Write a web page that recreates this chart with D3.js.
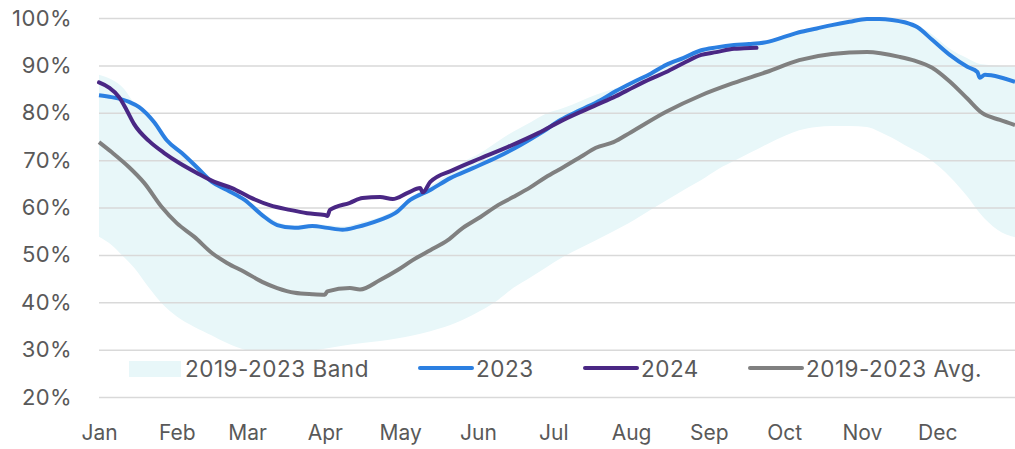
<!DOCTYPE html>
<html>
  <head>
    <title>Storage levels</title>
    <script src="https://d3js.org/d3.v7.min.js"></script>
    <style>
        body { margin: 0; background: white; }
        svg { display: block; }
        text { font-family: Inter, "Noto Sans", sans-serif; fill: #595959; }
    </style>
  </head>
  <body>
    <svg id="chart" width="1015" height="449"></svg>
  </body>
  <script>
    // day of year -> percent full
    const monthNames = ["Jan","Feb","Mar","Apr","May","Jun","Jul","Aug","Sep","Oct","Nov","Dec"];
    const monthStarts = [0,31,59,90,120,151,181,212,243,273,304,334];
    const yTicks = [20,30,40,50,60,70,80,90,100];

    const bandDays  = [0,5,10,14,20,25,31,38,45,51,58,65,71,78,85,91,97,105,112,118,125,132,140,145,152,159,165,172,178,185,192,198,205,211,220,226,234,240,247,253,260,266,274,279,286,292,299,306,311,316,321,327,332,339,346,351,358,365];
    const bandUpper = [88,87,85,82,79,75.5,72.3,69,65.8,64,62,59,57,56.2,56.5,56.3,56,57,58,59.6,62.5,64.5,67.5,69.5,71.5,74,76,78,79.8,81,82.5,83.8,85,86.2,88.5,90.3,91.9,93.4,94,94.5,94.8,95.2,96.3,97.2,98,98.7,99.4,100,100,99.8,99.3,98.2,96.5,93.5,91.5,90.3,90,89.7];
    const bandLower = [53.8,52.1,49.5,47.3,43,39.8,37,34.8,33,31.4,30,29.5,29.3,29.4,29.8,30.3,30.8,31.4,31.8,32.3,33,33.9,35.2,36.3,38.2,40.5,43,45.3,47.3,49.6,51.5,53.1,55,56.7,59.6,61.5,64,65.8,68.2,69.8,71.7,73.3,75.3,76.3,77,77.2,77.2,77,76,74.7,73.2,71.5,69.8,66.5,62.3,58.8,55.3,53.7];

    const days2023 = [0,5,12,16,22,27,33,39,45,51,58,65,71,78,85,91,97,103,107,112,118,124,132,140,149,159,168,176,184,192,200,206,213,220,226,233,240,246,253,259,266,273,279,286,292,299,306,311,316,321,326,332,339,346,350,351,353,359,365];
    const pct2023  = [83.7,83.3,82.3,81.2,78,74.2,71.5,68.5,65.4,63.7,61.6,58.4,56.3,55.7,56.1,55.7,55.3,55.9,56.5,57.4,58.8,61.6,63.7,66.2,68.3,70.7,73.2,75.7,78.5,80.6,82.7,84.6,86.5,88.3,90.1,91.6,93.2,93.8,94.3,94.5,94.9,96,97,97.8,98.5,99.2,99.8,99.8,99.6,99.1,98.1,95.4,92.2,89.7,88.6,87.4,88,87.5,86.5];

    const days2024 = [0,4,8,11,14,20,26,32,39,46,53,60,68,76,83,90,91,92,100,105,112,117,123,128,129,132,141,152,163,175,185,198,206,213,220,226,233,240,246,253,257,262];
    const pct2024  = [86.4,85.3,83.3,80.6,77.6,74,71.5,69.4,67.3,65.4,64.1,62.2,60.5,59.5,58.8,58.4,58.2,59.5,61,62,62.2,61.8,63.1,64.1,63.2,65.4,67.9,70.4,72.8,75.7,78.5,81.6,83.5,85.4,87.2,88.6,90.5,92.2,92.8,93.5,93.6,93.7];

    const daysAvg = [0,5,12,18,25,31,38,45,51,58,65,71,78,85,90,91,100,104,112,119,125,132,139,145,152,159,165,172,178,185,192,198,205,212,226,240,253,266,279,292,306,319,325,332,339,346,352,359,365];
    const pctAvg  = [73.8,71.7,68.5,65.2,60.1,56.7,53.8,50.4,48.3,46.4,44.3,43,42,41.7,41.6,42.3,43,42.7,44.7,46.8,48.9,51,53.1,55.7,58,60.5,62.2,64.3,66.4,68.5,70.7,72.6,73.8,75.9,80.2,83.7,86.3,88.6,91.1,92.4,92.8,91.8,91,89.5,86.6,83,79.9,78.5,77.4];

    const svg = d3.select("#chart");
    const margin = {top: 18, right: 0, bottom: 52, left: 99};
    const width = 1015 - margin.left - margin.right;
    const height = 449 - margin.top - margin.bottom;
    const g = svg.append("g").attr("transform", `translate(${margin.left},${margin.top})`);

    const x = d3.scaleLinear().domain([0, 365]).range([0, width]);
    const y = d3.scaleLinear().domain([20, 100]).range([height, 0]);

    // band (drawn first, under the grid)
    const bandData = bandDays.map((d, i) => ({d: d, lo: bandLower[i], hi: bandUpper[i]}));
    g.append("path")
        .datum(bandData)
        .attr("fill", "#e8f7f9")
        .attr("d", d3.area().x(d => x(d.d)).y0(d => y(d.lo)).y1(d => y(d.hi)).curve(d3.curveMonotoneX));

    // y axis with gridlines
    const yAxis = g.append("g")
        .call(d3.axisLeft(y).tickValues(yTicks).tickFormat(d => d + "%").tickSize(-width).tickPadding(27));
    yAxis.select(".domain").remove();
    yAxis.selectAll("line").attr("stroke", "#d9d9d9").attr("stroke-width", 1.5);
    yAxis.selectAll("text").style("font-size", "22px").style("letter-spacing", "0.4px").attr("fill", "#595959");

    // x axis: month labels only
    const xAxis = g.append("g")
        .attr("transform", `translate(0,${height})`)
        .call(d3.axisBottom(x).tickValues(monthStarts).tickFormat((d, i) => monthNames[i]).tickSize(0).tickPadding(28));
    xAxis.select(".domain").remove();
    xAxis.selectAll("text").style("font-size", "21px").attr("fill", "#595959");

    // lines
    const line = d3.line().x(d => x(d[0])).y(d => y(d[1])).curve(d3.curveMonotoneX);
    g.append("path")
        .datum(daysAvg.map((d, i) => [d, pctAvg[i]]))
        .attr("fill", "none").attr("stroke", "#808080").attr("stroke-width", 4)
        .attr("stroke-linejoin", "round").attr("d", line);
    g.append("path")
        .datum(days2023.map((d, i) => [d, pct2023[i]]))
        .attr("fill", "none").attr("stroke", "#2b7fe1").attr("stroke-width", 4)
        .attr("stroke-linejoin", "round").attr("d", line);
    g.append("path")
        .datum(days2024.map((d, i) => [d, pct2024[i]]))
        .attr("fill", "none").attr("stroke", "#4a2784").attr("stroke-width", 4)
        .attr("stroke-linejoin", "round").attr("stroke-linecap", "round").attr("d", line);

    // legend, white box over the bottom of the plot
    const legend = svg.append("g");
    legend.append("rect")
        .attr("x", 115).attr("y", 351).attr("width", 885).attr("height", 38)
        .attr("fill", "white");
    legend.append("rect")
        .attr("x", 129).attr("y", 361).attr("width", 52).attr("height", 16)
        .attr("fill", "#e8f7f9");
    legend.append("text").attr("x", 185).attr("y", 377)
        .style("font-size", "22.5px").style("letter-spacing", "0.5px")
        .text("2019-2023 Band");

    const lineItems = [
        {x: 418, color: "#2b7fe1", label: "2023"},
        {x: 583, color: "#4a2784", label: "2024"},
        {x: 748, color: "#808080", label: "2019-2023 Avg."}
    ];
    lineItems.forEach(item => {
        legend.append("line")
            .attr("x1", item.x + 2).attr("x2", item.x + 54)
            .attr("y1", 368).attr("y2", 368)
            .attr("stroke", item.color).attr("stroke-width", 4).attr("stroke-linecap", "round");
        legend.append("text")
            .attr("x", item.x + 58).attr("y", 377)
            .style("font-size", "22.5px").style("letter-spacing", "0.5px")
            .text(item.label);
    });
  </script>
</html>
